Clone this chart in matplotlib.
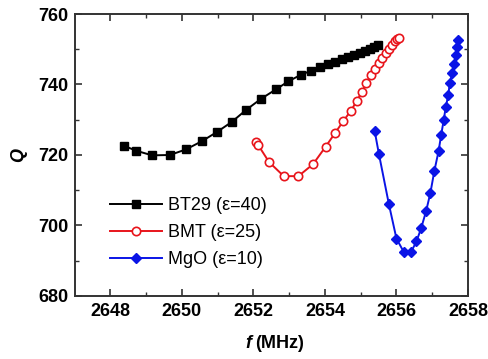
import matplotlib
matplotlib.use("Agg")
import matplotlib.pyplot as plt
from matplotlib.ticker import MultipleLocator

plt.rcParams['font.family'] = ['Liberation Sans', 'DejaVu Sans']

# BT29 (eps=40)
bt29_f = [2648.39, 2648.73, 2649.17, 2649.67, 2650.12, 2650.56, 2650.98, 2651.40,
          2651.80, 2652.21, 2652.63, 2652.98, 2653.32, 2653.61, 2653.87, 2654.08,
          2654.28, 2654.47, 2654.65, 2654.82, 2654.98, 2655.12, 2655.26, 2655.38, 2655.49]
bt29_q = [722.6, 721.2, 719.9, 720.0, 721.6, 723.9, 726.5, 729.4,
          732.8, 735.9, 738.6, 740.9, 742.7, 743.9, 745.05, 745.8,
          746.5, 747.15, 747.9, 748.45, 749.0, 749.6, 750.1, 750.55, 751.1]

# BMT (eps=25)
bmt_f = [2652.07, 2652.14, 2652.44, 2652.85, 2653.26, 2653.67, 2654.02, 2654.29,
         2654.52, 2654.73, 2654.89, 2655.04, 2655.16, 2655.28, 2655.40, 2655.51,
         2655.61, 2655.70, 2655.80, 2655.88, 2655.95, 2656.02, 2656.07]
bmt_q = [723.8, 722.75, 718.0, 714.0, 714.0, 717.4, 722.35, 726.3,
         729.7, 732.6, 735.3, 738.0, 740.4, 742.6, 744.4, 746.1,
         747.5, 748.9, 750.1, 751.1, 752.2, 753.0, 753.3]

# MgO (eps=10)
mgo_f = [2655.39, 2655.51, 2655.79, 2656.00, 2656.21, 2656.41, 2656.56, 2656.69,
         2656.83, 2656.95, 2657.06, 2657.18, 2657.25, 2657.32, 2657.38, 2657.45,
         2657.49, 2657.56, 2657.61, 2657.66, 2657.70, 2657.73]
mgo_q = [726.9, 720.3, 706.0, 696.3, 692.4, 692.5, 695.5, 699.2,
         704.1, 709.3, 715.5, 721.2, 725.7, 729.8, 733.7, 737.0,
         740.4, 743.3, 745.7, 748.5, 750.6, 752.6]

labels = ["BT29 (\u03b5=40)", "BMT (\u03b5=25)", "MgO (\u03b5=10)"]
x_ticks = [2648, 2650, 2652, 2654, 2656, 2658]
y_ticks = [680, 700, 720, 740, 760]

fig = plt.figure(figsize=(4.88, 3.59), dpi=100)
ax = fig.add_axes([0.154, 0.1755, 0.805, 0.7855])

ax.plot(bt29_f, bt29_q, color='black', marker='s', markersize=5.5, lw=1.4,
        label=labels[0])
ax.plot(bmt_f, bmt_q, color='#e8141b', marker='o', markersize=6, lw=1.4,
        markerfacecolor='white', markeredgecolor='#e8141b', markeredgewidth=1.2,
        label=labels[1])
ax.plot(mgo_f, mgo_q, color='#0a14e6', marker='D', markersize=5.5, lw=1.4,
        label=labels[2])

ax.set_xlim(2647.02, 2658)
ax.set_ylim(680, 760)
ax.set_xticks(x_ticks)
ax.set_yticks(y_ticks)
ax.xaxis.set_minor_locator(MultipleLocator(1))
ax.yaxis.set_minor_locator(MultipleLocator(10))
ax.tick_params(which='both', direction='in', top=True, right=True, color='#333333')
ax.tick_params(which='major', length=5, width=1.2, labelsize=13, pad=5)
ax.tick_params(which='minor', length=3, width=1.0)
for lab in ax.get_xticklabels() + ax.get_yticklabels():
    lab.set_fontweight('bold')
for s in ax.spines.values():
    s.set_color('#333333')
    s.set_linewidth(1.4)

fig.text(0.508, 0.042, 'f', fontsize=13, fontweight='bold', fontstyle='italic',
         ha='center', va='center')
fig.text(0.522, 0.042, '(MHz)', fontsize=13, fontweight='bold', ha='left', va='center')
ax.set_ylabel('Q', fontsize=13, fontweight='bold', fontstyle='italic', labelpad=8)

ax.legend(loc='upper left', bbox_to_anchor=(0.089, 0.35), frameon=False,
          fontsize=13, handlelength=2.9, handletextpad=0.33, labelspacing=0.55,
          borderaxespad=0, borderpad=0)

fig.savefig('out.png', dpi=100)
